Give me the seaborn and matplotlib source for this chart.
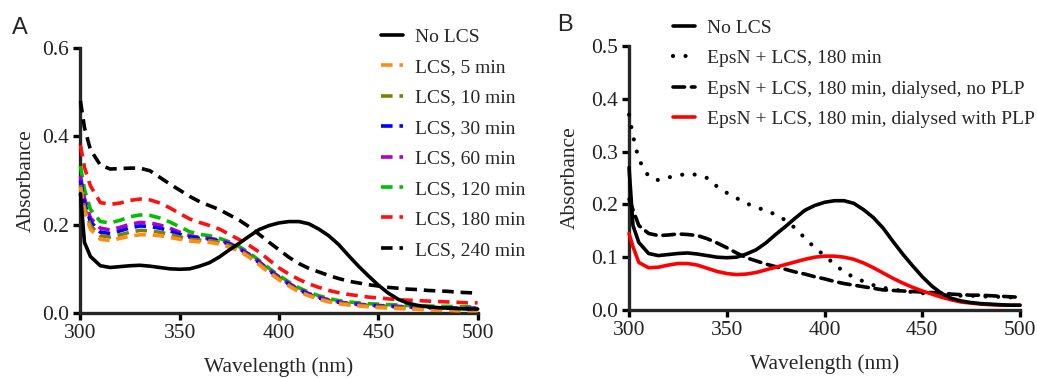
import matplotlib
matplotlib.use("Agg")
import matplotlib.pyplot as plt
import seaborn as sns
import pandas as pd

# ---------------- data ----------------
wavelength = [300, 302, 305, 310, 315, 320, 325, 330, 335, 340, 345, 350, 355, 360,
              365, 370, 375, 380, 385, 390, 395, 400, 405, 410, 415, 420, 425, 430,
              435, 440, 445, 450, 455, 460, 465, 470, 475, 480, 485, 490, 495, 500]

no_lcs = [0.27, 0.16, 0.128, 0.107, 0.103, 0.105, 0.107, 0.108, 0.106, 0.103, 0.100, 0.099,
          0.100, 0.106, 0.114, 0.127, 0.143, 0.158, 0.174, 0.189, 0.198, 0.204, 0.207, 0.207,
          0.202, 0.190, 0.175, 0.155, 0.130, 0.106, 0.084, 0.063, 0.045, 0.031, 0.022, 0.017,
          0.014, 0.012, 0.011, 0.010, 0.009, 0.009]

lcs_5 = [0.285, 0.23, 0.19, 0.167, 0.164, 0.169, 0.174, 0.177, 0.177, 0.175, 0.171, 0.167,
         0.163, 0.161, 0.160, 0.156, 0.149, 0.140, 0.126, 0.109, 0.091, 0.075, 0.061, 0.048,
         0.039, 0.031, 0.025, 0.021, 0.018, 0.016, 0.014, 0.012, 0.011, 0.010, 0.009, 0.008,
         0.007, 0.006, 0.006, 0.005, 0.005, 0.005]

lcs_10 = [0.29, 0.24, 0.198, 0.175, 0.172, 0.177, 0.183, 0.187, 0.186, 0.183, 0.178, 0.172,
          0.167, 0.165, 0.164, 0.160, 0.153, 0.143, 0.129, 0.112, 0.094, 0.078, 0.063, 0.050,
          0.040, 0.033, 0.027, 0.023, 0.020, 0.018, 0.016, 0.015, 0.014, 0.013, 0.012, 0.011,
          0.011, 0.010, 0.010, 0.009, 0.009, 0.009]

lcs_30 = [0.30, 0.25, 0.207, 0.183, 0.180, 0.186, 0.193, 0.197, 0.196, 0.192, 0.186, 0.178,
          0.172, 0.169, 0.167, 0.163, 0.156, 0.145, 0.131, 0.114, 0.096, 0.080, 0.065, 0.052,
          0.042, 0.034, 0.028, 0.024, 0.021, 0.019, 0.017, 0.016, 0.015, 0.014, 0.013, 0.012,
          0.012, 0.011, 0.011, 0.010, 0.010, 0.010]

lcs_60 = [0.31, 0.26, 0.215, 0.192, 0.188, 0.194, 0.201, 0.205, 0.204, 0.199, 0.192, 0.183,
          0.175, 0.171, 0.169, 0.165, 0.158, 0.147, 0.133, 0.116, 0.098, 0.082, 0.067, 0.054,
          0.044, 0.036, 0.030, 0.025, 0.022, 0.020, 0.018, 0.017, 0.016, 0.015, 0.014, 0.013,
          0.013, 0.012, 0.012, 0.011, 0.011, 0.011]

lcs_120 = [0.333, 0.28, 0.235, 0.207, 0.204, 0.210, 0.218, 0.222, 0.221, 0.215, 0.206, 0.195,
           0.184, 0.178, 0.175, 0.169, 0.161, 0.150, 0.136, 0.119, 0.101, 0.085, 0.070, 0.057,
           0.047, 0.039, 0.033, 0.028, 0.025, 0.023, 0.021, 0.020, 0.019, 0.018, 0.017, 0.016,
           0.016, 0.015, 0.015, 0.014, 0.014, 0.013]

lcs_180 = [0.38, 0.33, 0.288, 0.250, 0.246, 0.249, 0.255, 0.258, 0.256, 0.249, 0.238, 0.225,
           0.213, 0.205, 0.198, 0.190, 0.178, 0.166, 0.153, 0.138, 0.120, 0.102, 0.088, 0.076,
           0.066, 0.058, 0.051, 0.046, 0.042, 0.039, 0.036, 0.034, 0.032, 0.030, 0.029, 0.028,
           0.027, 0.026, 0.025, 0.024, 0.023, 0.023]

lcs_240 = [0.48, 0.42, 0.37, 0.335, 0.326, 0.327, 0.328, 0.328, 0.322, 0.307, 0.292, 0.278,
           0.264, 0.252, 0.243, 0.234, 0.222, 0.210, 0.195, 0.178, 0.160, 0.143, 0.126, 0.112,
           0.101, 0.093, 0.085, 0.078, 0.072, 0.068, 0.064, 0.061, 0.058, 0.056, 0.054, 0.053,
           0.051, 0.050, 0.049, 0.047, 0.046, 0.045]

epsn_180 = [0.37, 0.33, 0.285, 0.253, 0.246, 0.251, 0.255, 0.258, 0.256, 0.250, 0.234, 0.222,
            0.212, 0.202, 0.195, 0.188, 0.181, 0.170, 0.155, 0.136, 0.118, 0.103, 0.087, 0.072,
            0.062, 0.054, 0.047, 0.042, 0.039, 0.036, 0.034, 0.032, 0.030, 0.029, 0.028, 0.027,
            0.027, 0.026, 0.025, 0.025, 0.024, 0.023]

epsn_dial_no_plp = [0.21, 0.19, 0.16, 0.145, 0.141, 0.142, 0.144, 0.143, 0.141, 0.135, 0.127,
                    0.118, 0.108, 0.099, 0.093, 0.087, 0.082, 0.077, 0.072, 0.068, 0.063, 0.059,
                    0.054, 0.050, 0.047, 0.044, 0.041, 0.038, 0.037, 0.036, 0.035, 0.034, 0.033,
                    0.032, 0.030, 0.029, 0.028, 0.028, 0.027, 0.026, 0.025, 0.024]

epsn_dial_plp = [0.145, 0.12, 0.09, 0.080, 0.081, 0.085, 0.088, 0.088, 0.085, 0.079, 0.073,
                 0.069, 0.067, 0.068, 0.071, 0.076, 0.081, 0.086, 0.091, 0.096, 0.100, 0.102,
                 0.102, 0.100, 0.096, 0.089, 0.080, 0.070, 0.060, 0.051, 0.043, 0.036, 0.030,
                 0.024, 0.019, 0.015, 0.013, 0.011, 0.010, 0.009, 0.009, 0.009]

labels_a = ["No LCS", "LCS, 5 min", "LCS, 10 min", "LCS, 30 min", "LCS, 60 min",
            "LCS, 120 min", "LCS, 180 min", "LCS, 240 min"]
labels_b = ["No LCS", "EpsN + LCS, 180 min", "EpsN + LCS, 180 min, dialysed, no PLP",
            "EpsN + LCS, 180 min, dialysed with PLP"]

# ---------------- style ----------------
sns.set_style("ticks")
plt.rcParams["font.family"] = ["Liberation Serif", "DejaVu Serif"]
plt.rcParams["axes.linewidth"] = 2.4

fig = plt.figure(figsize=(10.37, 3.78), dpi=100)
ax_a = fig.add_axes([0.0776, 0.172, 0.383, 0.701])
ax_b = fig.add_axes([0.6066, 0.180, 0.377, 0.698])

dash = (0, (3.2, 1.9))
lw = 2.6

series_a = [no_lcs, lcs_5, lcs_10, lcs_30, lcs_60, lcs_120, lcs_180, lcs_240]
colors_a = ["black", "#FF8C1A", "#808000", "#0000FF", "#B000C8", "#00C000", "#FF1010", "black"]
styles_a = ["-"] + [dash] * 7
zorders_a = [10, 9, 8, 7, 6, 5, 4, 3]

for vals, lab, col, ls, z in zip(series_a, labels_a, colors_a, styles_a, zorders_a):
    df = pd.DataFrame({"wl": wavelength, "A": vals})
    sns.lineplot(data=df, x="wl", y="A", ax=ax_a, color=col, lw=lw,
                 linestyle=ls, label=lab, zorder=z, clip_on=False)

series_b = [no_lcs, epsn_180, epsn_dial_no_plp, epsn_dial_plp]
colors_b = ["black", "black", "black", "#FF0000"]
styles_b = ["-", (0, (0.01, 3.0)), (0, (3.2, 1.9)), "-"]
lws_b = [lw, 3.0, lw, lw]
zorders_b = [10, 8, 7, 9]
for vals, lab, col, ls, w, z in zip(series_b, labels_b, colors_b, styles_b, lws_b, zorders_b):
    df = pd.DataFrame({"wl": wavelength, "A": vals})
    sns.lineplot(data=df, x="wl", y="A", ax=ax_b, color=col, lw=w,
                 linestyle=ls, label=lab, zorder=z, clip_on=False,
                 dash_capstyle="round")

for ax, ymax, ystep, lpad in [(ax_a, 0.6, 0.2, 5), (ax_b, 0.5, 0.1, 8)]:
    ax.set_xlim(300, 500)
    ax.set_ylim(0, ymax)
    ax.set_xticks([300, 350, 400, 450, 500])
    n = int(round(ymax / ystep))
    ax.set_yticks([round(i * ystep, 1) for i in range(n + 1)])
    ax.set_yticklabels([f"{i * ystep:.1f}" for i in range(n + 1)])
    ax.tick_params(axis="both", labelsize=15.5, length=5, width=2.4, direction="out",
                   pad=3, color="black", labelcolor="#222222")
    ax.set_xlabel("Wavelength (nm)", fontsize=15.5, labelpad=10)
    ax.set_ylabel("Absorbance", fontsize=15.5, labelpad=lpad)
    sns.despine(ax=ax)

leg_a = ax_a.legend(loc="upper left", bbox_to_anchor=(381 / 1037, 1 - 28 / 378),
                    bbox_transform=fig.transFigure, frameon=False, fontsize=14,
                    handlelength=1.15, handletextpad=0.6, labelspacing=0.66,
                    borderpad=0, borderaxespad=0)
leg_b = ax_b.legend(loc="upper left", bbox_to_anchor=(673 / 1037, 1 - 19 / 378),
                    bbox_transform=fig.transFigure, frameon=False, fontsize=14,
                    handlelength=1.15, handletextpad=0.6, labelspacing=0.66,
                    borderpad=0, borderaxespad=0)

fig.text(12 / 1037, 1 - 28 / 378, "A", fontsize=17, family="Liberation Sans", va="center")
fig.text(557 / 1037, 1 - 25 / 378, "B", fontsize=17, family="Liberation Sans", va="center")

fig.savefig("out.png", dpi=100)
